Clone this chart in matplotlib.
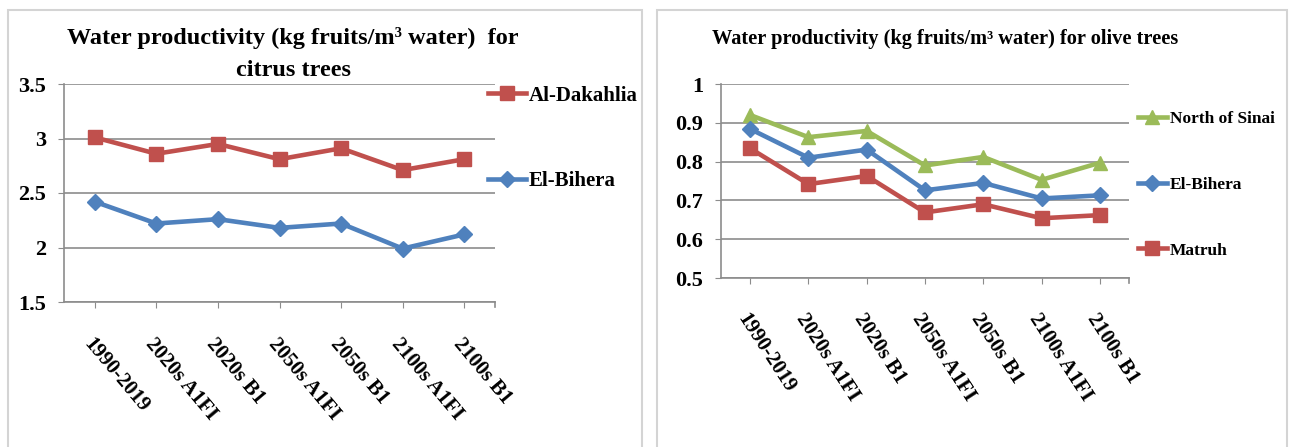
import matplotlib
matplotlib.use("Agg")
import matplotlib.pyplot as plt
from matplotlib.patches import Rectangle

# Scenario periods on the category axis
periods = ["1990-2019", "2020s A1FI", "2020s B1", "2050s A1FI",
           "2050s B1", "2100s A1FI", "2100s B1"]

# Citrus water productivity (kg fruits / m3 water)
citrus_dakahlia = [3.01, 2.86, 2.95, 2.81, 2.91, 2.71, 2.81]
citrus_bihera = [2.42, 2.22, 2.26, 2.18, 2.22, 1.99, 2.12]
citrus_yticks = [1.5, 2, 2.5, 3, 3.5]
citrus_ylabels = ["1.5", "2", "2.5", "3", "3.5"]

# Olive water productivity (kg fruits / m3 water)
olive_north_sinai = [0.920, 0.863, 0.879, 0.790, 0.812, 0.753, 0.797]
olive_bihera = [0.884, 0.810, 0.831, 0.726, 0.745, 0.705, 0.713]
olive_matruh = [0.834, 0.742, 0.763, 0.669, 0.690, 0.654, 0.662]
olive_yticks = [0.5, 0.6, 0.7, 0.8, 0.9, 1.0]
olive_ylabels = ["0.5", "0.6", "0.7", "0.8", "0.9", "1"]

RED = "#C0504D"
BLUE = "#4F81BD"
GREEN = "#9BBB59"
GRID = "#8C8C8C"

plt.rcParams["font.family"] = ["Liberation Serif", "DejaVu Serif"]
plt.rcParams["font.weight"] = "bold"

W, H = 1291, 447
fig = plt.figure(figsize=(W / 100, H / 100), dpi=100)
fig.patch.set_facecolor("white")


def px_axes(x0, x1, ytop, ybot):
    return fig.add_axes([x0 / W, 1 - ybot / H, (x1 - x0) / W, (ybot - ytop) / H])


def style_axes(ax, yticks, ylabels, ylim, xrot):
    n = len(periods)
    ax.set_xlim(-0.5, n - 0.5)
    ax.set_ylim(*ylim)
    ax.set_yticks(yticks)
    ax.set_yticklabels(ylabels, fontsize=16, fontweight="bold")
    ax.set_xticks(range(n))
    ax.set_xticklabels(periods, fontsize=15, fontweight="bold",
                       rotation=xrot, ha="left", va="top",
                       rotation_mode="anchor")
    ax.tick_params(axis="x", length=4, color=GRID, pad=19)
    ax.tick_params(axis="y", length=4, color=GRID, pad=9)
    ax.grid(axis="y", color=GRID, linewidth=1.2)
    ax.set_axisbelow(True)
    for side in ("top", "right"):
        ax.spines[side].set_visible(False)
    for side in ("left", "bottom"):
        ax.spines[side].set_color(GRID)
        ax.spines[side].set_linewidth(1.2)
    # closing tick at the right end of the category axis
    ax.plot([n - 0.5, n - 0.5], [0, -0.025], transform=ax.get_xaxis_transform(),
            color=GRID, lw=1.2, clip_on=False)


# Panel frames
for x0, x1 in [(8, 642), (657, 1287)]:
    fig.add_artist(Rectangle((x0 / W, -0.05), (x1 - x0) / W, 1.05 - 10 / H,
                             transform=fig.transFigure, fill=False,
                             edgecolor="#D4D4D4", linewidth=1.5))

# ---- Citrus panel ----
ax1 = px_axes(64, 495, 84, 302)
style_axes(ax1, citrus_yticks, citrus_ylabels, (1.5, 3.5), -50)
x = range(len(periods))
l_dak, = ax1.plot(x, citrus_dakahlia, color=RED, lw=3.3, marker="s", ms=9.5,
                  label="Al-Dakahlia", zorder=3)
l_bih, = ax1.plot(x, citrus_bihera, color=BLUE, lw=3.3, marker="D", ms=8.5,
                  label="El-Bihera", zorder=3)
ax1.legend(handles=[l_dak, l_bih], loc="upper left",
           bbox_to_anchor=(0.96, 1.04), frameon=False, borderpad=0,
           handlelength=1.8, handletextpad=0.15, labelspacing=3.15,
           prop={"family": "Liberation Serif", "weight": "bold", "size": 15})
fig.text(293 / W, 1 - 44 / H,
         "Water productivity (kg fruits/m\u00b3 water)  for",
         ha="center", va="baseline", fontsize=17.5, fontweight="bold")
fig.text(293 / W, 1 - 76 / H, "citrus trees",
         ha="center", va="baseline", fontsize=17.5, fontweight="bold")

# ---- Olive panel ----
ax2 = px_axes(721, 1129, 84, 278)
style_axes(ax2, olive_yticks, olive_ylabels, (0.5, 1.0), -57)
l_ns, = ax2.plot(x, olive_north_sinai, color=GREEN, lw=3.3, marker="^", ms=10.5,
                 label="North of Sinai", zorder=3)
l_ob, = ax2.plot(x, olive_bihera, color=BLUE, lw=3.3, marker="D", ms=8.5,
                 label="El-Bihera", zorder=3)
l_mt, = ax2.plot(x, olive_matruh, color=RED, lw=3.3, marker="s", ms=9.5,
                 label="Matruh", zorder=3)
ax2.legend(handles=[l_ns, l_ob, l_mt], loc="upper left",
           bbox_to_anchor=(1.0, 0.905), frameon=False, borderpad=0,
           handlelength=1.7, handletextpad=0.15, labelspacing=2.85,
           prop={"family": "Liberation Serif", "weight": "bold", "size": 12.5})
fig.text(945 / W, 1 - 44 / H,
         "Water productivity (kg fruits/m\u00b3 water) for olive trees",
         ha="center", va="baseline", fontsize=14.7, fontweight="bold")

fig.savefig("out.png", dpi=100)
